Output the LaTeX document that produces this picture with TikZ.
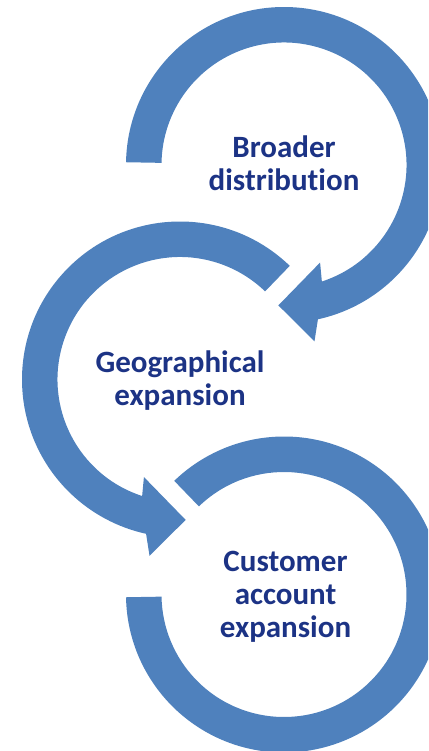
\documentclass[tikz,border=0pt]{standalone}
\usepackage{fontspec}
\setmainfont{Carlito}[Ligatures={NoCommon,NoContextual}]
\definecolor{ringblue}{HTML}{4F81BD}
\definecolor{labelnavy}{HTML}{1C3385}
\begin{document}
\begin{tikzpicture}[x=1pt,y=1pt,
  ring/.style={fill=ringblue,draw=none},
  captext/.style={text=labelnavy,font=\fontsize{31}{33}\selectfont\bfseries,inner sep=0pt,anchor=base}]
\clip (0,0) rectangle (428,-751);

% top ring: runs clockwise from the left, arrowhead down-left
\begin{scope}[shift={(284,-165)}]
  \fill[ring] (179:122.5) -- (179:158)
    arc[start angle=179,end angle=-77.6,radius=158pt]
    -- (-80.2:179) -- (-92.3:140.5) -- (-69.7:104) -- (-72:122.5)
    arc[start angle=-72,end angle=179,radius=122.5pt] -- cycle;
\end{scope}

% middle ring: runs counter-clockwise from upper right, arrowhead down-right
\begin{scope}[shift={(180,-379.5)}]
  \fill[ring] (46:122.5) -- (46:158)
    arc[start angle=46,end angle=257.6,radius=158pt]
    -- (260.2:179) -- (272.3:140.5) -- (249.7:104) -- (252:122.5)
    arc[start angle=252,end angle=46,radius=122.5pt] -- cycle;
\end{scope}

% bottom ring: open ring without arrowhead
\begin{scope}[shift={(284,-594.5)}]
  \fill[ring] (181:122.5) -- (181:158)
    arc[start angle=181,end angle=494,radius=158pt]
    -- (494:122.5)
    arc[start angle=494,end angle=181,radius=122.5pt] -- cycle;
\end{scope}

% labels
\node[captext] (t1a) at (284,-157.3) {Broader};
\node[captext] (t1b) at (284,-190.3) {distribution};
\node[captext] (t2a) at (180,-372.5) {Geographical};
\node[captext] (t2b) at (180,-405.3) {expansion};
\node[captext] (t3a) at (285.5,-571.7) {Customer};
\node[captext] (t3b) at (285.5,-604.5) {account};
\node[captext] (t3c) at (285.5,-637) {expansion};
\end{tikzpicture}
\end{document}
